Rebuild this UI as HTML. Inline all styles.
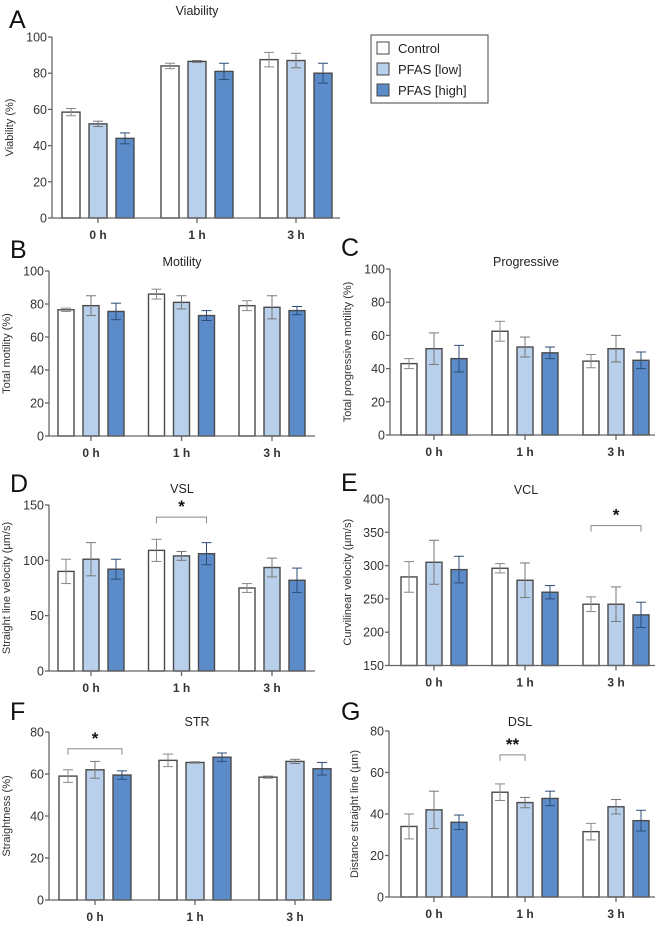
<!DOCTYPE html>
<html><head><meta charset="utf-8"><style>
html,body{margin:0;padding:0;background:#fff;}
svg{display:block;font-family:"Liberation Sans",Arial,sans-serif;}
</style></head><body>
<svg id="fig" width="661" height="925" viewBox="0 0 661 925" xmlns="http://www.w3.org/2000/svg">
<g id="legend">
<rect x="371" y="35" width="117" height="68" fill="#fff" stroke="#444" stroke-width="1"/>
<rect x="377" y="42" width="12" height="12" fill="#fff" stroke="#444"/>
<text x="398" y="53" font-size="13" fill="#222">Control</text>
<rect x="377" y="63" width="12" height="12" fill="#b9d0ec" stroke="#444"/>
<text x="398" y="74" font-size="13" fill="#222">PFAS [low]</text>
<rect x="377" y="84" width="12" height="12" fill="#5b8cc9" stroke="#444"/>
<text x="398" y="95" font-size="13" fill="#222">PFAS [high]</text>
</g>
</svg>
<script>
// ---- data ----
const categories = ["0 h","1 h","3 h"];
const seriesNames = ["Control","PFAS [low]","PFAS [high]"];
const viabilityMean = [[58.5,52,44],[84,86.5,81],[87.5,87,80]];
const viabilityErr  = [[2,1.5,3],[1.5,0.5,4.5],[4,4,5.5]];
const motilityMean = [[76.5,79,75.5],[86,81,73],[79,78,76]];
const motilityErr  = [[1,6,5],[3,4,3],[3,7,2.5]];
const progressiveMean = [[43,52,46],[62.5,53,49.5],[44.5,52,45]];
const progressiveErr  = [[3,9.5,8],[6,6,3.5],[4,8,5]];
const vslMean = [[90,101,92],[109,104,106],[75,93.5,82]];
const vslErr  = [[11,15,9],[10,4,10],[4,8.5,11]];
const vclMean = [[283,305,294],[296,278,260],[242,242,226]];
const vclErr  = [[23,33,20],[7,26,10],[11,26,19]];
const strMean = [[59,62,59.5],[66.5,65.5,68],[58.5,66,62.5]];
const strErr  = [[3,4,2],[3,0.3,2],[0.5,1,3]];
const dslMean = [[34,42,36],[50.5,45.5,47.5],[31.5,43.5,36.8]];
const dslErr  = [[6,9,3.5],[4,2.5,3.5],[4,3.5,5]];
const ticksA = [0,20,40,60,80,100];
const ticksD = [0,50,100,150];
const ticksE = [150,200,250,300,350,400];
const ticksF = [0,20,40,60,80];
const colors = ["#ffffff","#b9d0ec","#5b8cc9"];

const NS="http://www.w3.org/2000/svg";
const svg=document.getElementById('fig');
function mk(tag,attrs,parent){const e=document.createElementNS(NS,tag);for(const k in attrs)e.setAttribute(k,attrs[k]);(parent||svg).appendChild(e);return e;}

function panel(p){
  const g=mk('g',{});
  
  
  const yMin=p.ticks[0], yMax=p.ticks[p.ticks.length-1];
  const ys=v=>p.y0-(v-yMin)/(yMax-yMin)*(p.y0-p.yTop);
  const xs=(gi,si)=>p.c0+gi*p.gs+(si-1)*p.bstep;
  // letter
  const L=mk('text',{x:p.lx,y:p.ly,'font-size':25,fill:'#111'},g);L.textContent=p.letter;
  
  
  const T=mk('text',{x:p.tx,y:p.ty,'font-size':12.5,fill:'#222','text-anchor':'middle'},g);T.textContent=p.title;
  
  
  // bars
  p.mean.forEach((grp,gi)=>grp.forEach((v,si)=>{
    const cx=xs(gi,si);
    const r=mk('rect',{x:cx-p.bw/2,y:ys(v),width:p.bw,height:p.y0-ys(v),fill:colors[si],stroke:'#4a4a4a','stroke-width':1.4},g);
    
    
    const e=p.err[gi][si];
    const ec=si===0?'#888':(si===1?'#777':'#2d4d78');
    const eg=mk('g',{stroke:ec,'stroke-width':1,fill:'none'},g);
    
    
    mk('line',{x1:cx,x2:cx,y1:ys(v-e),y2:ys(v+e)},eg);
    mk('line',{x1:cx-5,x2:cx+5,y1:ys(v+e),y2:ys(v+e)},eg);
    mk('line',{x1:cx-5,x2:cx+5,y1:ys(v-e),y2:ys(v-e)},eg);
  }));
  // axes
  const ax=mk('g',{stroke:'#666','stroke-width':1.3},g);
  
  
  mk('line',{x1:p.ax,x2:p.ax,y1:p.yTop,y2:p.y0},ax);
  mk('line',{x1:p.ax,x2:p.xEnd,y1:p.y0,y2:p.y0},ax);
  p.ticks.forEach(t=>{
    mk('line',{x1:p.ax-4,x2:p.ax,y1:ys(t),y2:ys(t)},ax);
    const tt=mk('text',{x:p.ax-5,y:ys(t)+4.5,'font-size':12.5,fill:'#333','text-anchor':'end'},g);tt.textContent=t;
    
    
  });
  categories.forEach((c,gi)=>{
    const cx=p.c0+gi*p.gs;
    mk('line',{x1:cx,x2:cx,y1:p.y0,y2:p.y0+5},ax);
    const tt=mk('text',{x:cx,y:p.y0+21,'font-size':12,'font-weight':'bold',fill:'#333','text-anchor':'middle'},g);tt.textContent=c;
    
    
  });
  const yt=mk('text',{x:0,y:0,'font-size':11,fill:'#333','text-anchor':'middle',transform:`translate(${p.ytx},${(p.yTop+p.y0)/2}) rotate(-90)`},g);
  yt.textContent=p.ytitle;
  
  
  if(p.sig){
    const s=p.sig;const x1=xs(s.g,s.a),x2=xs(s.g,s.b),y=ys(s.v);
    const bg=mk('g',{},g);
    
    
    mk('polyline',{points:`${x1},${y+6} ${x1},${y} ${x2},${y} ${x2},${y+6}`,fill:'none',stroke:'#888','stroke-width':1},bg);
    const st=mk('text',{x:(x1+x2)/2,y:y-5,'font-size':17,'font-weight':'bold',fill:'#111','text-anchor':'middle'},bg);st.textContent=s.label;
  }
}
panel({id:'a',letter:'A',lx:9,ly:28,title:'Viability',tx:197,ty:15,mean:viabilityMean,err:viabilityErr,ticks:ticksA,ax:52,xEnd:340,y0:218,yTop:37,c0:98,gs:99,bw:18,bstep:27,ytitle:'Viability (%)',ytx:13});
panel({id:'b',letter:'B',lx:10,ly:258,title:'Motility',tx:182,ty:266,mean:motilityMean,err:motilityErr,ticks:ticksA,ax:49,xEnd:315,y0:436,yTop:271,c0:91,gs:90.5,bw:16,bstep:25,ytitle:'Total motility (%)',ytx:10});
panel({id:'c',letter:'C',lx:341,ly:256,title:'Progressive',tx:526,ty:266,mean:progressiveMean,err:progressiveErr,ticks:ticksA,ax:390,xEnd:655,y0:435,yTop:269,c0:434,gs:91,bw:16,bstep:25,ytitle:'Total progressive motility (%)',ytx:351});
panel({id:'d',letter:'D',lx:10,ly:492,title:'VSL',tx:182,ty:493,mean:vslMean,err:vslErr,ticks:ticksD,ax:49,xEnd:315,y0:671,yTop:505,c0:91,gs:90.5,bw:16,bstep:25,ytitle:'Straight line velocity (µm/s)',ytx:10,sig:{g:1,a:0,b:2,v:139,label:'*'}});
panel({id:'e',letter:'E',lx:341,ly:491,title:'VCL',tx:526,ty:494,mean:vclMean,err:vclErr,ticks:ticksE,ax:389,xEnd:655,y0:665.5,yTop:499,c0:434,gs:91,bw:16,bstep:25,ytitle:'Curvilinear velocity (µm/s)',ytx:351,sig:{g:2,a:0,b:2,v:360,label:'*'}});
panel({id:'f',letter:'F',lx:10,ly:720,title:'STR',tx:197,ty:726,mean:strMean,err:strErr,ticks:ticksF,ax:49,xEnd:330,y0:900,yTop:732,c0:95,gs:100,bw:18,bstep:27,ytitle:'Straightness (%)',ytx:10,sig:{g:0,a:0,b:2,v:72,label:'*'}});
panel({id:'g',letter:'G',lx:341,ly:720,title:'DSL',tx:520,ty:726,mean:dslMean,err:dslErr,ticks:ticksF,ax:389,xEnd:655,y0:897,yTop:731,c0:434,gs:91,bw:16,bstep:25,ytitle:'Distance straight line (µm)',ytx:358,sig:{g:1,a:0,b:1,v:68.5,label:'**'}});
</script>
</body></html>
